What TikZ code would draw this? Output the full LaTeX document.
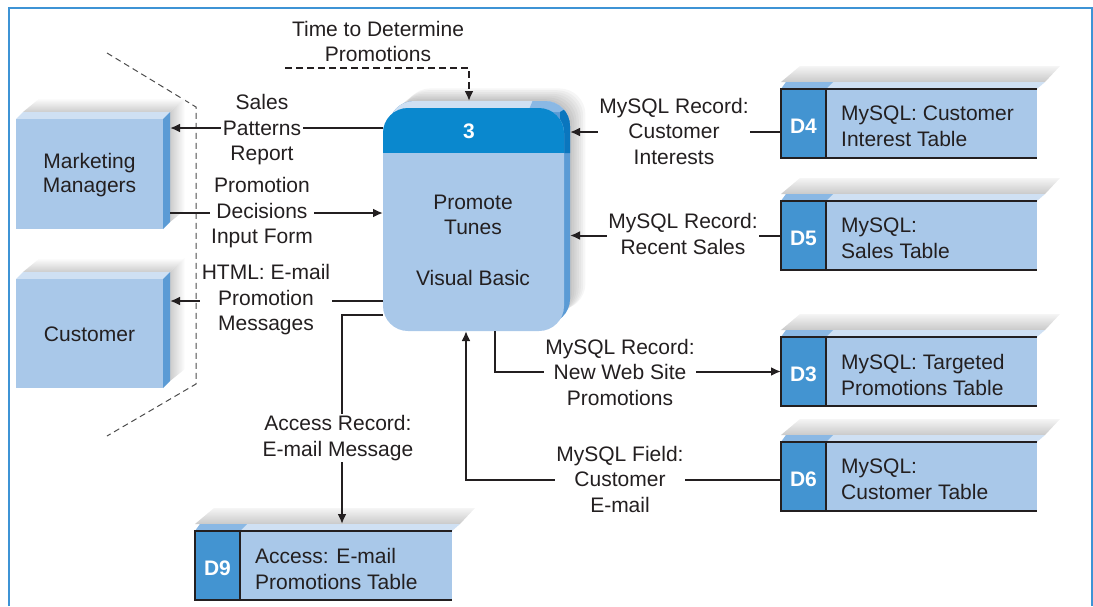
\documentclass[tikz,border=0pt]{standalone}
\usepackage{fontspec}
\setmainfont{Liberation Sans}
\usetikzlibrary{arrows.meta,calc}
\definecolor{face}{HTML}{A9C8E9}
\definecolor{side}{HTML}{5B9BD5}
\definecolor{topc}{HTML}{CFE0F3}
\definecolor{head}{HTML}{0A88CE}
\definecolor{headside}{HTML}{0A76BE}
\definecolor{dlab}{HTML}{4394D1}
\definecolor{dtop}{HTML}{8AB8E4}
\definecolor{ink}{HTML}{231F20}
\definecolor{framec}{HTML}{3D93D5}
\tikzset{
  txt/.style={font=\fontsize{21}{25.5}\selectfont, text=ink, align=center, inner sep=0pt},
  lbl/.style={txt, fill=white, inner sep=1.5pt},
  dtxt/.style={font=\fontsize{21}{26}\selectfont, text=ink, align=left, inner sep=0pt, anchor=west},
  dlbl/.style={font=\fontsize{21}{25}\selectfont\bfseries, text=white, inner sep=0pt},
  flow/.style={draw=ink, line width=2pt},
  arr/.style={flow, -{Latex[length=10pt,width=9pt]}},
  tarr/.style={arr, dash pattern=on 7pt off 4pt},
  boundary/.style={draw=gray!60!black, line width=1pt, dash pattern=on 6pt off 4pt},
  edge/.style={draw=ink, line width=2pt},
  hold/.style={inner sep=0pt, outer sep=0pt}
}
% data store: name, x, ytop, width, label, text
\newcommand\dstore[6]{%
  \begin{scope}[shift={(#2,#3)}]
    \shade[top color=gray!8, bottom color=gray!42] (0,-7) -- (19,-23) -- (#4+23,-23) -- (#4+8,-7) -- cycle;
    \fill[topc] (0,0) -- (5,-7) -- (#4+8,-7) -- (#4,0) -- cycle;
    \fill[dtop] (0,0) -- (5,-7) -- (52,-7) -- (45,0) -- cycle;
    \fill[face] (0,0) rectangle (#4,69);
    \fill[dlab] (0,0) rectangle (45,69);
    \draw[edge] (#4,0) -- (0,0) -- (0,69) -- (#4,69);
    \draw[edge] (45,0) -- (45,69);
    \node[hold, minimum width=#4 pt, minimum height=69pt, anchor=north west] (#1) at (0,0) {};
    \node[dlbl] at (22.5,37) {#5};
    \node[dtxt] at (60,37.5) {#6};
  \end{scope}}
% external entity: name, x, ytop, height, text
\newcommand\entity[5]{%
  \begin{scope}[shift={(#2,#3)}]
    \shade[top color=white, bottom color=gray!40] (7,-7) -- (24,-21) -- (169,-21) -- (154,-7) -- cycle;
    \shade[left color=gray!40, right color=white] (154,-7) -- (169,-21) -- (169,#4-19) -- (154,#4-7) -- cycle;
    \fill[topc] (0,0) -- (7,-7) -- (154,-7) -- (147,0) -- cycle;
    \fill[side] (147,0) -- (154,-7) -- (154,#4-7) -- (147,#4) -- cycle;
    \fill[face] (0,0) rectangle (147,#4);
    \node[hold, minimum width=147pt, minimum height=#4 pt, anchor=north west] (#1) at (0,0) {};
    \node[txt, font=\fontsize{21}{24.5}\selectfont] at (73.5,#4/2+1) {#5};
  \end{scope}}
\begin{document}
\begin{tikzpicture}[x=1pt,y=-1pt]
\useasboundingbox (0,0) rectangle (1093,606);
% frame
\draw[framec, line width=1.5pt] (9,606) -- (9,8) -- (1092,8) -- (1092,606);
% system boundary
\draw[boundary] (107,53) -- (196,107) -- (196,384) -- (107,436);
% external entities
\entity{mm}{16}{119}{110}{Marketing\\Managers}
\entity{cu}{16}{279}{109}{Customer}
% process shadow
\foreach \i in {1,...,7}{
  \fill[black, opacity=0.035, rounded corners=26pt] (389+\i*2.2, 101-\i*1.8) rectangle (570+\i*2.2, 318-\i*1.2);
}
\begin{scope}
  \clip[rounded corners=25pt] (389,101) rectangle (570,324);
  \fill[side] (380,95) rectangle (580,330);
  \fill[topc] (380,95) rectangle (580,112);
  \fill[dtop] (535,95) -- (580,95) -- (580,104) -- (566,112) -- (528,112) -- cycle;
  \fill[headside] (560,112) -- (580,100) -- (580,153) -- (560,153) -- cycle;
\end{scope}
\fill[face, rounded corners=25pt] (383,108) rectangle (564,331);
\begin{scope}
  \clip[rounded corners=25pt] (383,108) rectangle (564,331);
  \fill[head] (383,108) rectangle (564,153);
\end{scope}
\node[hold, minimum width=181pt, minimum height=223pt] (p) at (473.5,219.5) {};
\node[txt, text=white, font=\fontsize{21}{25}\selectfont\bfseries] at (469,131) {3};
\node[txt, font=\fontsize{21}{24.5}\selectfont] at (473,215) {Promote\\Tunes};
\node[txt] at (473,278) {Visual Basic};
% data stores
\dstore{d4}{781}{89}{256}{D4}{MySQL: Customer\\Interest Table}
\dstore{d5}{781}{201}{256}{D5}{MySQL:\\Sales Table}
\dstore{d3}{781}{337}{256}{D3}{MySQL: Targeted\\Promotions Table}
\dstore{d6}{781}{442}{256}{D6}{MySQL:\\Customer Table}
\dstore{d9}{195}{531}{257}{D9}{Access: E-mail\\Promotions Table}
% helper coordinates
\coordinate (mmR) at ([xshift=7pt]mm.east);
\coordinate (cuR) at ([xshift=7pt]cu.east);
\coordinate (pR) at ([xshift=6pt]p.east);
\coordinate (pT) at ([yshift=7pt]p.north);
\coordinate (d9T) at ([yshift=7pt]d9.north);
\coordinate (c1) at (0,128);
\coordinate (c2) at (0,213);
\coordinate (c3) at (0,301);
\coordinate (a1) at (342,315);
\coordinate (t0) at (285,68);
\coordinate (t1) at (469,0);
\coordinate (c6) at (0,132);
\coordinate (c9) at (0,480);
\coordinate (c10) at (466,0);
\coordinate (c11) at (495,0);
% connectors
\draw[tarr] (t0) -| (t1 |- pT);
\draw[arr] (p.west |- c1) -- (mmR |- c1);
\draw[arr] (mmR |- c2) -- (p.west |- c2);
\draw[arr] (p.west |- c3) -- (cuR |- c3);
\draw[arr] (p.west |- a1) -- (a1) -- (a1 |- d9T);
\draw[arr] (d4.west |- c6) -- (pR |- c6);
\draw[arr] (d5.west) -- (pR |- d5.west);
\draw[arr] (c11 |- p.south) |- (d3.west);
\draw[arr] (d6.west |- c9) -| (c10 |- p.south);
% labels
\node[txt] (lt) at (378,41.5) {Time to Determine\\Promotions};
\node[lbl] (l1) at (262,130) {Sales\\Patterns\\Report};
\node[lbl] (l2) at (262,213) {Promotion\\Decisions\\Input Form};
\node[lbl] (l3) at (266,300) {HTML: E-mail\\Promotion\\Messages};
\node[lbl] (l4) at (338,438) {Access Record:\\E-mail Message};
\node[lbl] (l5) at (674,131) {MySQL Record:\\Customer\\Interests};
\node[lbl] (l6) at (683,234) {MySQL Record:\\Recent Sales};
\node[lbl] (l7) at (620,372) {MySQL Record:\\New Web Site\\Promotions};
\node[lbl] (l8) at (620,479) {MySQL Field:\\Customer\\E-mail};
\end{tikzpicture}
\end{document}
